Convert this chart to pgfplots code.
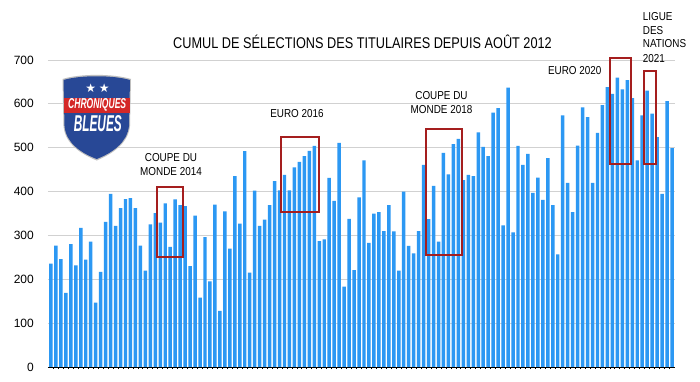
\documentclass[border=0pt]{standalone}
\usepackage{pgfplots}
\pgfplotsset{compat=1.18}
\usepackage{pgfplotstable}
\usepackage{fontspec}
\setmainfont{Liberation Sans}
\newfontfamily\symfont{DejaVu Sans}
\definecolor{barblue}{RGB}{44,152,243}
\definecolor{boxred}{RGB}{165,30,30}
\definecolor{shieldblue}{RGB}{40,72,150}
\definecolor{shieldred}{RGB}{212,40,40}
\newcommand{\din}[1]{\scalebox{0.86}[1]{#1}}
\pgfplotstableread{
n v
1 236
2 277
3 246
4 169
5 280
6 232
7 317
8 245
9 286
10 147
11 217
12 331
13 395
14 322
15 362
16 383
17 385
18 362
19 277
20 220
21 325
22 351
23 329
24 373
25 274
26 382
27 369
28 367
29 230
30 345
31 158
32 296
33 195
34 370
35 128
36 355
37 270
38 435
39 327
40 492
41 215
42 402
43 322
44 336
45 369
46 424
47 403
48 438
49 403
50 455
51 468
52 481
53 493
54 504
55 287
56 291
57 431
58 379
59 511
60 183
61 338
62 221
63 387
64 471
65 283
66 350
67 353
68 310
69 369
70 309
71 220
72 400
73 276
74 259
75 310
76 461
77 337
78 413
79 286
80 488
81 439
82 508
83 520
84 426
85 438
86 435
87 535
88 502
89 481
90 580
91 590
92 323
93 637
94 307
95 504
96 461
97 486
98 397
99 432
100 381
101 476
102 369
103 257
104 574
105 420
106 353
107 505
108 592
109 570
110 420
111 534
112 597
113 638
114 623
115 660
116 633
117 654
118 613
119 471
120 574
121 630
122 578
123 524
124 395
125 606
126 499
}\datatable
\begin{document}
\begin{tikzpicture}[x=1pt,y=1pt]
\useasboundingbox[fill=white] (0,0) rectangle (700,381);
\begin{axis}[
  at={(48pt,14pt)}, anchor=south west,
  scale only axis, width=627pt, height=307pt,
  xmin=0.4, xmax=126.6, ymin=0, ymax=700,
  ytick={0,100,...,700},
  xtick={1.5,2.5,...,125.5}, xticklabels={},
  xtick pos=left, ytick pos=left,
  ymajorgrids, grid style={line width=1pt, color=black!18},
  axis line style={draw=none},
  ytick style={draw=none},
  xtick style={draw=black, line width=0.8pt},
  major tick length=2pt, tick align=outside,
  clip=false,
  /pgf/number format/assume math mode=true,
  yticklabel style={font=\fontsize{12}{14}\selectfont, anchor=east, inner sep=0pt, xshift=-12pt},
]
\addplot[ybar, bar width=0.7, fill=barblue, draw=none] table[x=n, y=v] {\datatable};
\draw[black, line width=1pt] (axis cs:0.4,0) -- (axis cs:126.6,0);
\draw[boxred, line width=2pt] (axis cs:22.4,251) rectangle (axis cs:27.6,410);
\draw[boxred, line width=2pt] (axis cs:47.3,353) rectangle (axis cs:54.95,525);
\draw[boxred, line width=2pt] (axis cs:76.4,256) rectangle (axis cs:83.7,543);
\draw[boxred, line width=2pt] (axis cs:113.5,464) rectangle (axis cs:117.7,704);
\draw[boxred, line width=2pt] (axis cs:120.3,464) rectangle (axis cs:122.8,674);
\end{axis}
% title
\node[anchor=base] at (362.5,332.3) {\scalebox{0.82}[1]{\fontsize{15.5}{18}\selectfont CUMUL DE SÉLECTIONS DES TITULAIRES DEPUIS AOÛT 2012}};
% annotations
\begin{scope}[every node/.style={font=\fontsize{11.5}{13.8}\selectfont}]
\node[anchor=base] at (171,219.5) {\din{COUPE DU}};
\node[anchor=base] at (171,206.0) {\din{MONDE 2014}};
\node[anchor=base] at (297,263.6) {\din{EURO 2016}};
\node[anchor=base] at (441.5,281.6) {\din{COUPE DU}};
\node[anchor=base] at (441.5,267.1) {\din{MONDE 2018}};
\node[anchor=base] at (574.7,306.7) {\din{EURO 2020}};
\node[anchor=base west, inner sep=0pt] at (642.7,360.2) {\din{LIGUE}};
\node[anchor=base west, inner sep=0pt] at (642.7,346.1) {\din{DES}};
\node[anchor=base west, inner sep=0pt] at (642.7,333.1) {\din{NATIONS}};
\node[anchor=base west, inner sep=0pt] at (642.7,318.9) {\din{2021}};
\end{scope}
% logo
\fill[black!25] (62.5,302) .. controls (80,307.5) and (113,307.5) .. (131,302) -- (130,255) .. controls (128,237) and (112,227) .. (96.7,220.5) .. controls (81,227) and (65,237) .. (63.5,255) -- cycle;
\fill[shieldblue] (63.5,301) .. controls (80,306) and (113,306) .. (130,301) -- (129,255) .. controls (127,238) and (112,228) .. (96.7,222) .. controls (81,228) and (66,238) .. (64.5,255) -- cycle;
\fill[shieldred] (64,268.3) rectangle (129.5,283.3);
\node[white, inner sep=0pt] at (90.7,292.5) {\symfont\fontsize{12}{12}\selectfont ★};
\node[white, inner sep=0pt] at (104.3,292.5) {\symfont\fontsize{12}{12}\selectfont ★};
\node[white, inner sep=0pt] at (97.2,275.8) {\resizebox{58pt}{10pt}{\bfseries\itshape CHRONIQUES}};
\node[white, inner sep=0pt] at (97.8,257.2) {\resizebox{48pt}{16pt}{\bfseries\itshape BLEUES}};
\end{tikzpicture}
\end{document}
